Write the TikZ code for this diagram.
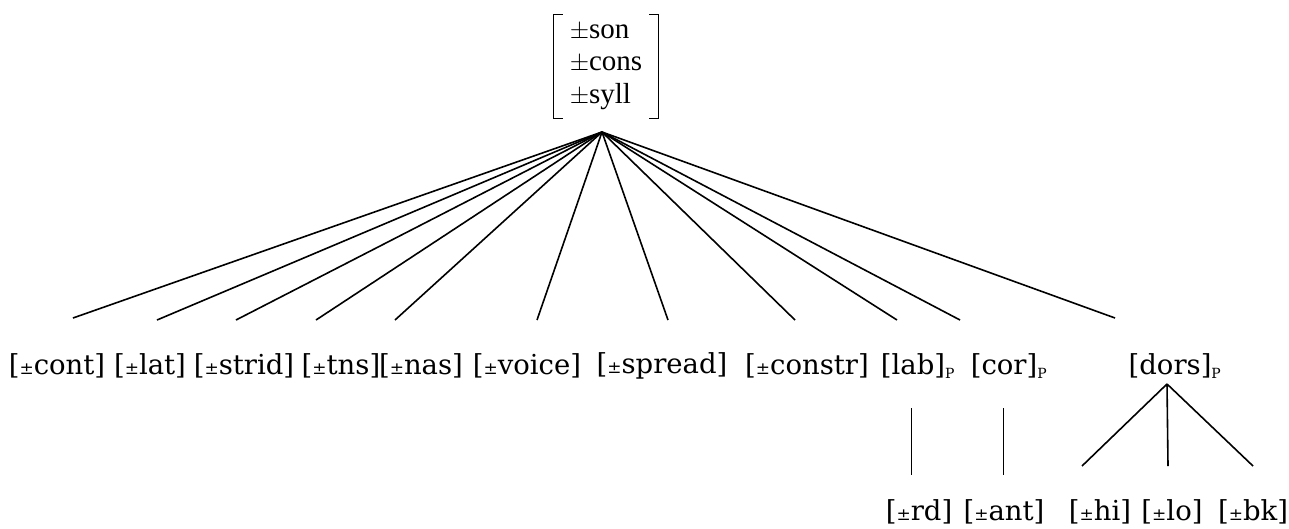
\documentclass[tikz,border=0pt]{standalone}
\usepackage{fontspec}
\setmainfont{DejaVu Serif}
\newfontfamily\rootfont{Liberation Serif}
\newcommand\spm{{\fontsize{17}{17}\selectfont ±}}
\newcommand\subP{\textsubscript{\fontsize{14}{14}\selectfont P}}
\begin{document}
\begin{tikzpicture}[x=1pt,y=-1pt,
  feat/.style={inner sep=0pt, font=\fontsize{27.5}{32}\selectfont},
  edge/.style={line width=1.6pt},
  thin/.style={line width=0.9pt},
  bracket/.style={line width=1.1pt}]
\useasboundingbox (0,0) rectangle (1289,528);
% root
\node[inner sep=0pt, minimum width=104pt, minimum height=103pt, align=left,
  font=\rootfont\fontsize{29}{32.5}\selectfont] (root) at (606,66.5)
  {$\pm$son\\ $\pm$cons\\ $\pm$syll};
\draw[bracket] ([xshift=9pt]root.north west) -- (root.north west) -- (root.south west) -- ([xshift=9pt]root.south west);
\draw[bracket] ([xshift=-9pt]root.north east) -- (root.north east) -- (root.south east) -- ([xshift=-9pt]root.south east);
\coordinate (apex) at (602,132);
% first row
\node[feat] (cont)   at (57,366)  {[\spm cont]};
\node[feat] (lat)    at (150,366) {[\spm lat]};
\node[feat] (strid)  at (244,366) {[\spm strid]};
\node[feat] (tns)    at (341,366) {[\spm tns]};
\node[feat] (nas)    at (421,366) {[\spm nas]};
\node[feat] (voice)  at (527,366) {[\spm voice]};
\node[feat] (spread) at (662,366) {[\spm spread]};
\node[feat] (constr) at (807,366) {[\spm constr]};
\node[feat] (labl)   at (918,366) {[lab]\subP};
\node[feat] (cor)    at (1009,366) {[cor]\subP};
\node[feat] (dors)   at (1175,366) {[dors]\subP};
% line ends
\coordinate (econt)   at (73,318);
\coordinate (elat)    at (157,320);
\coordinate (estrid)  at (236,320);
\coordinate (etns)    at (316,320);
\coordinate (enas)    at (395,320);
\coordinate (evoice)  at (537,320);
\coordinate (espread) at (668,320);
\coordinate (econstr) at (795,320);
\coordinate (elab)    at (897,320);
\coordinate (ecor)    at (960,320);
\coordinate (edors)   at (1115,318);
\foreach \e in {econt,elat,estrid,etns,enas,evoice,espread,econstr,elab,ecor,edors}
  \draw[edge] (apex) -- (\e);
% second row
\node[feat] (rd)  at (919,512)  {[\spm rd]};
\node[feat] (ant) at (1004,512) {[\spm ant]};
\node[feat] (hi)  at (1100,512) {[\spm hi]};
\node[feat] (lo)  at (1172,512) {[\spm lo]};
\node[feat] (bk)  at (1253,512) {[\spm bk]};
\coordinate (labtop) at (911,408);
\coordinate (labbot) at (911,475);
\coordinate (cortop) at (1003,408);
\coordinate (corbot) at (1003,475);
\draw[thin] (labtop) -- (labbot);
\draw[thin] (cortop) -- (corbot);
\coordinate (dapex) at (1167,384);
\coordinate (dhi) at (1082,466);
\coordinate (dlo) at (1168,466);
\coordinate (dbk) at (1253,466);
\draw[edge] (dapex) -- (dhi);
\draw[edge] (dapex) -- (dlo);
\draw[edge] (dapex) -- (dbk);
\end{tikzpicture}
\end{document}
